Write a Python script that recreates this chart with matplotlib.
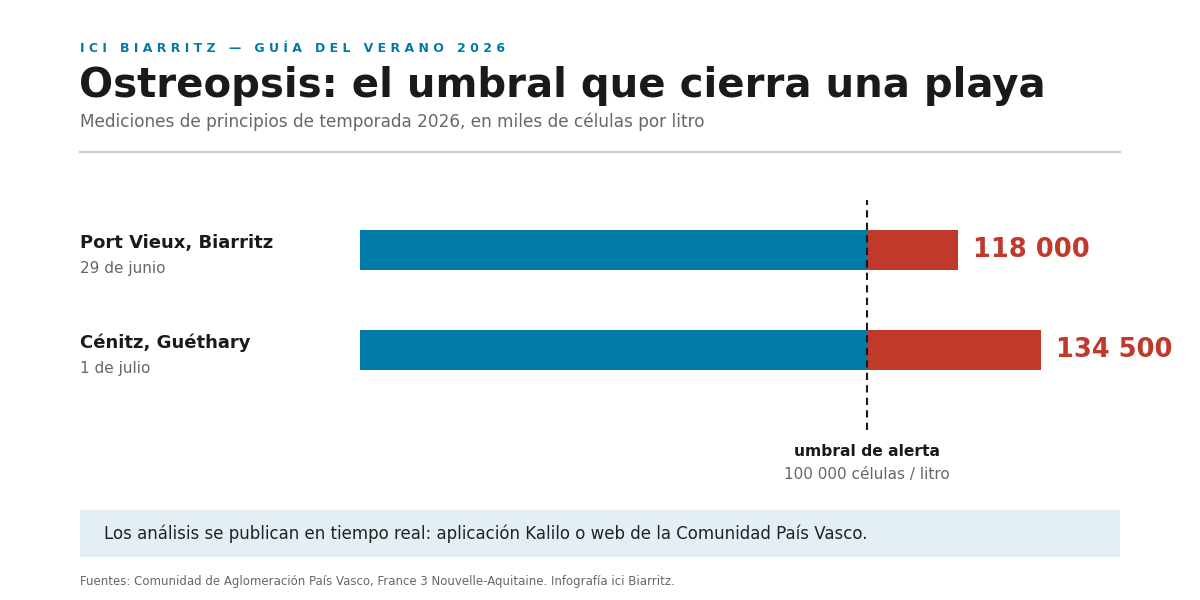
import matplotlib
matplotlib.use("Agg")
import matplotlib.pyplot as plt
import matplotlib.transforms as mtransforms
from matplotlib.patches import Rectangle

# datos
playas = ["Port Vieux, Biarritz", "Cénitz, Guéthary"]
fechas = ["29 de junio", "1 de julio"]
valores = [118000, 134500]
etiquetas = ["118 000", "134 500"]
umbral = 100000

AZUL = "#007aa6"
ROJO = "#c0392b"
NEGRO = "#1a1a1a"
GRIS = "#666666"

plt.rcParams["font.family"] = ["DejaVu Sans"]

W, H = 1200, 600
fig = plt.figure(figsize=(12, 6), dpi=100)


def fx(px):
    return px / W


def fy(py):
    return 1 - py / H


# cabecera
kicker = "ICI BIARRITZ — GUÍA DEL VERANO 2026"
fig.text(fx(80), fy(49), " ".join(kicker), color=AZUL, fontsize=9,
         fontweight="bold", va="center", ha="left")
fig.text(fx(79), fy(86), "Ostreopsis: el umbral que cierra una playa",
         color=NEGRO, fontsize=29, fontweight="bold", va="center", ha="left")
fig.text(fx(80), fy(122), "Mediciones de principios de temporada 2026, en miles de células por litro",
         color=GRIS, fontsize=12.2, va="center", ha="left")
fig.add_artist(plt.Line2D([fx(80), fx(1120)], [fy(152), fy(152)],
                          color="#cccccc", lw=1.5, transform=fig.transFigure))

# barras
ax = fig.add_axes([fx(360), fy(430), fx(1120) - fx(360), fy(200) - fy(430)])
ax.set_xlim(0, 150000)
ax.set_ylim(1.8, -0.5)
ax.axis("off")

pos = list(range(len(valores)))
base = [min(v, umbral) for v in valores]
exceso = [max(v - umbral, 0) for v in valores]
ax.barh(pos, base, height=0.4, color=AZUL)
ax.barh(pos, exceso, left=umbral, height=0.4, color=ROJO)
ax.axvline(umbral, color=NEGRO, lw=1.5, ls=(0, (3.5, 2.5)), ymin=0, ymax=1)

# nombres de playa y fechas a la izquierda
tr = mtransforms.blended_transform_factory(fig.transFigure, ax.transData)
for i, (p, f, v, e) in enumerate(zip(playas, fechas, valores, etiquetas)):
    ax.text(fx(80), i - 0.07, p, transform=tr, fontsize=13, fontweight="bold",
            color=NEGRO, va="center", ha="left")
    ax.text(fx(80), i + 0.19, f, transform=tr, fontsize=11, color=GRIS,
            va="center", ha="left")
    ax.annotate(e, (v, i), xytext=(15, 0), textcoords="offset pixels",
                fontsize=18.5, fontweight="bold", color=ROJO,
                va="center", ha="left", annotation_clip=False)

# etiqueta del umbral
tr2 = mtransforms.blended_transform_factory(ax.transData, fig.transFigure)
ax.text(umbral, fy(452), "umbral de alerta", transform=tr2, fontsize=11.2,
        fontweight="bold", color=NEGRO, ha="center", va="center")
ax.text(umbral, fy(474), "100 000 células / litro", transform=tr2, fontsize=11,
        color=GRIS, ha="center", va="center")

# recuadro
fig.add_artist(Rectangle((fx(80), fy(557)), fx(1120) - fx(80), fy(510) - fy(557),
                         transform=fig.transFigure, facecolor="#e3eff5",
                         edgecolor="none"))
fig.text(fx(104), fy(534),
         "Los análisis se publican en tiempo real: aplicación Kalilo o web de la Comunidad País Vasco.",
         fontsize=12, color="#222222", va="center", ha="left")

fig.text(fx(80), fy(581),
         "Fuentes: Comunidad de Aglomeración País Vasco, France 3 Nouvelle-Aquitaine. Infografía ici Biarritz.",
         fontsize=8.5, color=GRIS, va="center", ha="left")

fig.savefig("out.png", dpi=100, facecolor="white")
